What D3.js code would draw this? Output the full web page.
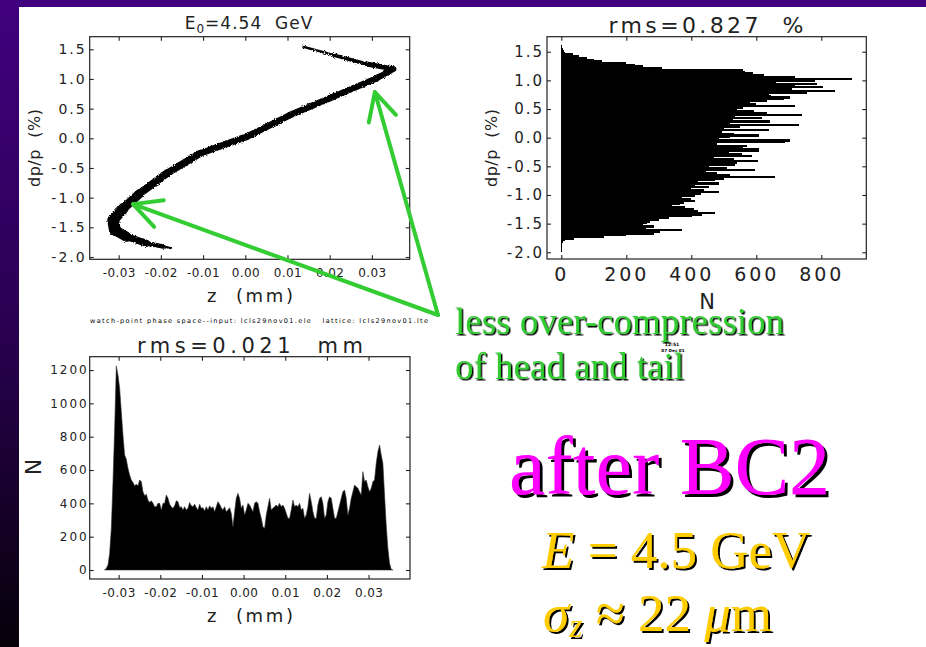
<!DOCTYPE html>
<html>
<head>
<meta charset="utf-8">
<script src="https://cdn.jsdelivr.net/npm/d3@7"></script>
<style>
  html, body { margin: 0; padding: 0; background: #000; }
  svg { display: block; }
</style>
</head>
<body>
<svg id="slide" width="926" height="647"></svg>
<script>
// ---------- data ----------
// longitudinal phase space: centre line of the particle band (z in mm, dp/p in %)
const bandZ  = [0.0137, 0.0209, 0.0288, 0.0351, 0.0311, 0.0209, 0.0106, 0.0003, -0.0107, -0.0186,
                -0.0250, -0.0289, -0.0313, -0.0309, -0.0281, -0.0234, -0.0194, -0.0174];
const bandDp = [1.544, 1.404, 1.252, 1.168, 1.011, 0.701, 0.392, 0.026, -0.254, -0.591,
                -0.928, -1.181, -1.379, -1.547, -1.660, -1.771, -1.824, -1.853];
// full width of the band at each centre point, in dp/p (%)
const bandWidthDp = [0.03, 0.055, 0.075, 0.095, 0.105, 0.108, 0.108, 0.112, 0.115, 0.125,
                     0.14, 0.16, 0.2, 0.2, 0.14, 0.095, 0.055, 0.02];

// energy histogram: bins of 0.03 % starting at dp/p = 1.62 % and going down
const dpHistTop = 1.62;
const dpBinWidth = 0.03;
const dpCounts = [
  1, 2, 4, 7, 12, 35, 55, 78, 100, 125, 200, 228, 250, 310,
  560, 566, 590, 625, 720, 895, 782, 660, 788, 720, 805, 710, 843, 756, 640, 645,
  705, 684, 633, 580, 600, 720, 560, 540, 592, 633, 741, 535, 618, 528, 643, 520,
  730, 551, 500, 638, 495, 530, 607, 520, 485, 705, 689, 480, 571, 560, 607,
  607, 515, 556, 587, 470, 530, 605, 541, 535, 455, 510, 597, 445, 480, 520,
  659, 500, 474, 420, 484, 410, 454, 400, 440, 484, 430, 410, 370, 400, 412,
  377, 366, 340, 380, 407, 420, 474, 433, 402, 330, 300, 274, 264, 250, 284,
  260, 371, 305, 284, 200, 130, 40, 12, 5, 2, 1, 1, 1, 1
];

// bunch-length histogram: bins of 0.0004 mm starting at z = -0.03336 mm
const zHistStart = -0.03336;
const zBinWidth = 0.0004;
const zCounts = [
  0, 10, 30, 100, 250, 530, 850, 1225, 1170, 1090, 950, 810, 690, 665, 610, 570, 540, 525, 505, 515,
  505, 540, 530, 470, 445, 455, 420, 405, 415, 400, 380, 380, 400, 400, 360, 400, 400, 450, 430, 395,
  380, 370, 385, 415, 410, 375, 380, 360, 380, 360, 370, 405, 385, 380, 395, 375, 360, 395, 370, 374,
  354, 380, 360, 385, 370, 380, 350, 380, 410, 394, 374, 360, 380, 350, 360, 374, 340, 260, 350, 430,
  460, 430, 370, 390,
  330, 360, 400, 390, 370, 350, 400, 410, 400, 350, 310, 260, 250, 330, 380, 430, 360, 370, 380, 390,
  380, 400, 380, 390, 370, 340, 310, 310, 360, 420, 380, 390, 380, 400, 360, 370, 310, 330, 380, 460,
  410, 350, 310, 310, 390, 430, 440, 400, 310, 330, 410, 440, 430, 370, 310, 310, 350, 390, 430, 470,
  480, 430, 330, 370, 430, 470, 510, 500, 490, 470, 450, 590, 530, 540, 500, 470, 490, 530, 540, 640,
  710, 750, 690, 640, 450, 270, 130, 40, 5, 0
];

// tick values
const zTicks = [-0.03, -0.02, -0.01, 0.00, 0.01, 0.02, 0.03];
const dpTicks = [-2.0, -1.5, -1.0, -0.5, 0.0, 0.5, 1.0, 1.5];
const nTicks = [0, 200, 400, 600, 800];
const countTicks = [0, 200, 400, 600, 800, 1000, 1200];

// annotation targets on the phase-space plot (z mm, dp/p %)
const arrowTargets = [[0.0307, 0.78], [-0.0266, -1.109]];

// ---------- drawing ----------
const W = 926, H = 647;
const INK = "#222";
const PLOTFONT = "'DejaVu Sans', sans-serif";
const SERIF = "'Liberation Serif', 'Times New Roman', 'DejaVu Serif', serif";

const svg = d3.select("#slide");
const defs = svg.append("defs");

const grad = defs.append("linearGradient").attr("id", "bgGrad")
  .attr("x1", 0).attr("y1", 0).attr("x2", 0).attr("y2", 1);
grad.append("stop").attr("offset", "0%").attr("stop-color", "#41007e");
grad.append("stop").attr("offset", "50%").attr("stop-color", "#2a0052");
grad.append("stop").attr("offset", "100%").attr("stop-color", "#060009");

const grain = defs.append("filter").attr("id", "grain")
  .attr("x", "-10%").attr("y", "-10%").attr("width", "120%").attr("height", "120%");
grain.append("feTurbulence").attr("type", "fractalNoise").attr("baseFrequency", 0.9)
  .attr("numOctaves", 1).attr("seed", 4).attr("result", "noise");
grain.append("feDisplacementMap").attr("in", "SourceGraphic").attr("in2", "noise")
  .attr("scale", 3.5).attr("xChannelSelector", "R").attr("yChannelSelector", "G");

// drop shadows for the slide captions
function shadowFilter(id, d, color) {
  const f = defs.append("filter").attr("id", id)
    .attr("x", "-5%").attr("y", "-10%").attr("width", "115%").attr("height", "130%");
  f.append("feDropShadow").attr("dx", d).attr("dy", d).attr("stdDeviation", 0)
    .attr("flood-color", color).attr("flood-opacity", 1);
}
shadowFilter("shadowS", 1.5, "#000");
shadowFilter("shadowM", 2, "#000");
shadowFilter("shadowL", 3, "#000");

svg.append("rect").attr("width", W).attr("height", H).attr("fill", "url(#bgGrad)");
svg.append("rect").attr("x", 19).attr("y", 7).attr("width", W - 19).attr("height", H - 7).attr("fill", "#fff");

function drawFrame(g, x, y, cfg) {
  const [xl, xr] = x.range();
  const [yb, yt] = y.range();
  const bottom = g.append("g").attr("transform", `translate(0,${yb})`)
    .call(d3.axisBottom(x).tickValues(cfg.xTicks).tickFormat(cfg.xFmt).tickSize(-4).tickPadding(cfg.xPad));
  const top = g.append("g").attr("transform", `translate(0,${yt})`)
    .call(d3.axisTop(x).tickValues(cfg.xTicks).tickFormat("").tickSize(-4));
  const left = g.append("g").attr("transform", `translate(${xl},0)`)
    .call(d3.axisLeft(y).tickValues(cfg.yTicks).tickFormat(cfg.yFmt).tickSize(-4).tickPadding(cfg.yPad));
  const right = g.append("g").attr("transform", `translate(${xr},0)`)
    .call(d3.axisRight(y).tickValues(cfg.yTicks).tickFormat("").tickSize(-4));
  [bottom, top, left, right].forEach(a => {
    a.select(".domain").remove();
    a.selectAll("line").attr("stroke", INK).attr("stroke-width", 1.1);
  });
  bottom.selectAll("text").attr("font-family", PLOTFONT).attr("font-size", cfg.xSize)
    .style("letter-spacing", cfg.xLs + "px").attr("fill", INK);
  left.selectAll("text").attr("font-family", PLOTFONT).attr("font-size", cfg.ySize)
    .style("letter-spacing", cfg.yLs + "px").attr("fill", INK);
  g.append("rect").attr("x", xl).attr("y", yt).attr("width", xr - xl).attr("height", yb - yt)
    .attr("fill", "none").attr("stroke", INK).attr("stroke-width", 1.2);
}

function label(g, txt, x, y, size, opts = {}) {
  const t = g.append("text").attr("x", x).attr("y", y)
    .attr("font-family", PLOTFONT).attr("font-size", size).attr("fill", INK)
    .attr("text-anchor", "middle").style("white-space", "pre").text(txt);
  if (opts.len) t.attr("textLength", opts.len).attr("lengthAdjust", "spacing");
  if (opts.rotate) t.attr("transform", `rotate(-90,${x},${y})`);
  return t;
}

const fmt2 = d => d.toFixed(2);
const fmt1 = d => d.toFixed(1);

// ----- phase space (top left) -----
const psX = d3.scaleLinear().domain([-0.03687, 0.03896]).range([89.7, 409.7]);
const psY = d3.scaleLinear().domain([-2.039, 1.7125]).range([259.3, 36.7]);
const ps = svg.append("g");
const pxPerDp = Math.abs(psY(1) - psY(0));
const band = ps.append("g").attr("filter", "url(#grain)");
for (let i = 0; i < bandZ.length - 1; i++) {
  band.append("line")
    .attr("x1", psX(bandZ[i])).attr("y1", psY(bandDp[i]))
    .attr("x2", psX(bandZ[i + 1])).attr("y2", psY(bandDp[i + 1]))
    .attr("stroke", "#000").attr("stroke-linecap", "round")
    .attr("stroke-width", (bandWidthDp[i] + bandWidthDp[i + 1]) / 2 * pxPerDp)
    .attr("stroke-dasharray", (i === 0 || i === bandZ.length - 2) ? "1.5 1.5" : null);
}
drawFrame(ps, psX, psY, {
  xTicks: zTicks, xFmt: fmt2, xPad: 9.2, xSize: 12, xLs: 0.4,
  yTicks: dpTicks, yFmt: fmt1, yPad: 3, ySize: 14, yLs: 2
});
const t1 = ps.append("text").attr("x", 249).attr("y", 29).attr("text-anchor", "middle")
  .attr("font-family", PLOTFONT).attr("font-size", 17).attr("fill", INK)
  .style("letter-spacing", "1px").style("white-space", "pre");
t1.append("tspan").text("E");
t1.append("tspan").attr("dy", 4).attr("font-size", 12).text("0");
t1.append("tspan").attr("dy", -4).text("=4.54  GeV");
label(ps, "z  (mm)", 250, 302, 18, { len: 86 });
label(ps, "dp/p  (%)", 40, 148, 16, { len: 78, rotate: true });
ps.append("text").attr("x", 90).attr("y", 322.5)
  .attr("font-family", PLOTFONT).attr("font-size", 6.5).attr("fill", "#000")
  .style("white-space", "pre").attr("textLength", 338).attr("lengthAdjust", "spacing")
  .text("watch-point phase space--input: lcls29nov01.ele   lattice: lcls29nov01.lte");

// ----- energy histogram (top right) -----
const ehX = d3.scaleLinear().domain([-44, 938.5]).range([547, 866.3]);
const ehY = d3.scaleLinear().domain([-2.117, 1.762]).range([259, 36.7]);
const eh = svg.append("g");
eh.append("g").attr("shape-rendering", "crispEdges").selectAll("rect").data(dpCounts).join("rect")
  .attr("x", ehX(0))
  .attr("y", (d, k) => ehY(dpHistTop - k * dpBinWidth))
  .attr("width", d => ehX(d) - ehX(0))
  .attr("height", (d, k) => ehY(dpHistTop - (k + 1) * dpBinWidth) - ehY(dpHistTop - k * dpBinWidth) + 0.6)
  .attr("fill", "#000");
drawFrame(eh, ehX, ehY, {
  xTicks: nTicks, xFmt: d3.format("d"), xPad: 8.5, xSize: 19, xLs: 3,
  yTicks: dpTicks, yFmt: fmt1, yPad: 3, ySize: 15, yLs: 2
});
label(eh, "rms=0.827  %", 706, 33, 22, { len: 195 });
label(eh, "N", 707, 308.5, 21);
label(eh, "dp/p  (%)", 497, 148, 16, { len: 78, rotate: true });

// ----- bunch-length histogram (bottom left) -----
const zhX = d3.scaleLinear().domain([-0.03695, 0.03995]).range([89.7, 410]);
const zhY = d3.scaleLinear().domain([-54, 1280]).range([579, 356.7]);
const zh = svg.append("g");
zh.append("path").datum(zCounts)
  .attr("d", d3.area()
    .x((d, i) => zhX(zHistStart + i * zBinWidth))
    .y0(zhY(0))
    .y1(d => zhY(d)))
  .attr("fill", "#000").attr("stroke", "#333").attr("stroke-width", 0.6);
drawFrame(zh, zhX, zhY, {
  xTicks: zTicks, xFmt: fmt2, xPad: 9.5, xSize: 12, xLs: 0.4,
  yTicks: countTicks, yFmt: d3.format("d"), yPad: 1, ySize: 12, yLs: 2
});
label(zh, "rms=0.021  mm", 250, 353, 21, { len: 226 });
label(zh, "z  (mm)", 250, 622, 18, { len: 86 });
label(zh, "N", 41, 467, 22, { rotate: true });

// ----- annotation arrows -----
const arrowOrigin = [438, 315];
const arrows = svg.append("g").attr("stroke", "#3c3").attr("stroke-width", 4)
  .attr("stroke-linecap", "round").attr("fill", "none");
arrowTargets.forEach(([z, dp]) => {
  const tx = psX(z), ty = psY(dp);
  const ang = Math.atan2(arrowOrigin[1] - ty, arrowOrigin[0] - tx);
  const len = 31, spread = 27 * Math.PI / 180;
  const w1 = [tx + len * Math.cos(ang + spread), ty + len * Math.sin(ang + spread)];
  const w2 = [tx + len * Math.cos(ang - spread), ty + len * Math.sin(ang - spread)];
  arrows.append("path").attr("d", `M${arrowOrigin[0]},${arrowOrigin[1]}L${tx},${ty}`);
  arrows.append("path").attr("d", `M${w1[0]},${w1[1]}L${tx},${ty}L${w2[0]},${w2[1]}`)
    .attr("stroke-linejoin", "round");
});

// ----- slide text -----
function caption(g, x, y, size, color, shadow) {
  return g.append("text").attr("x", x).attr("y", y)
    .attr("font-family", SERIF).attr("font-size", size).attr("fill", color)
    .attr("filter", `url(#${shadow})`).style("white-space", "pre");
}
const notes = svg.append("g");
caption(notes, 455, 334, 37, "#33cc33", "shadowS").text("less over-compression");
caption(notes, 455, 379, 37, "#33cc33", "shadowS").text("of head and tail");

notes.append("text").attr("x", 672).attr("y", 345.5).attr("text-anchor", "middle")
  .attr("font-family", PLOTFONT).attr("font-size", 4.5).attr("font-weight", "bold").attr("fill", "#000")
  .text("12:51");
notes.append("text").attr("x", 673).attr("y", 351.5).attr("text-anchor", "middle")
  .attr("font-family", PLOTFONT).attr("font-size", 4.2).attr("font-weight", "bold").attr("fill", "#000")
  .style("white-space", "pre").text("07 Dec 01");

caption(notes, 509, 494, 82, "#ff00ff", "shadowL").text("after BC2");
const eLine = caption(notes, 542, 568, 53, "#ffcc00", "shadowM");
eLine.append("tspan").attr("font-style", "italic").text("E");
eLine.append("tspan").text(" = 4.5 GeV");
const sLine = caption(notes, 543, 631, 53, "#ffcc00", "shadowM");
sLine.append("tspan").attr("font-style", "italic").text("σ");
sLine.append("tspan").attr("font-style", "italic").attr("font-size", 34).attr("dy", 6).text("z");
sLine.append("tspan").attr("dy", -6).text(" ≈ 22 ");
sLine.append("tspan").attr("font-style", "italic").text("μ");
sLine.append("tspan").text("m");
</script>
</body>
</html>
